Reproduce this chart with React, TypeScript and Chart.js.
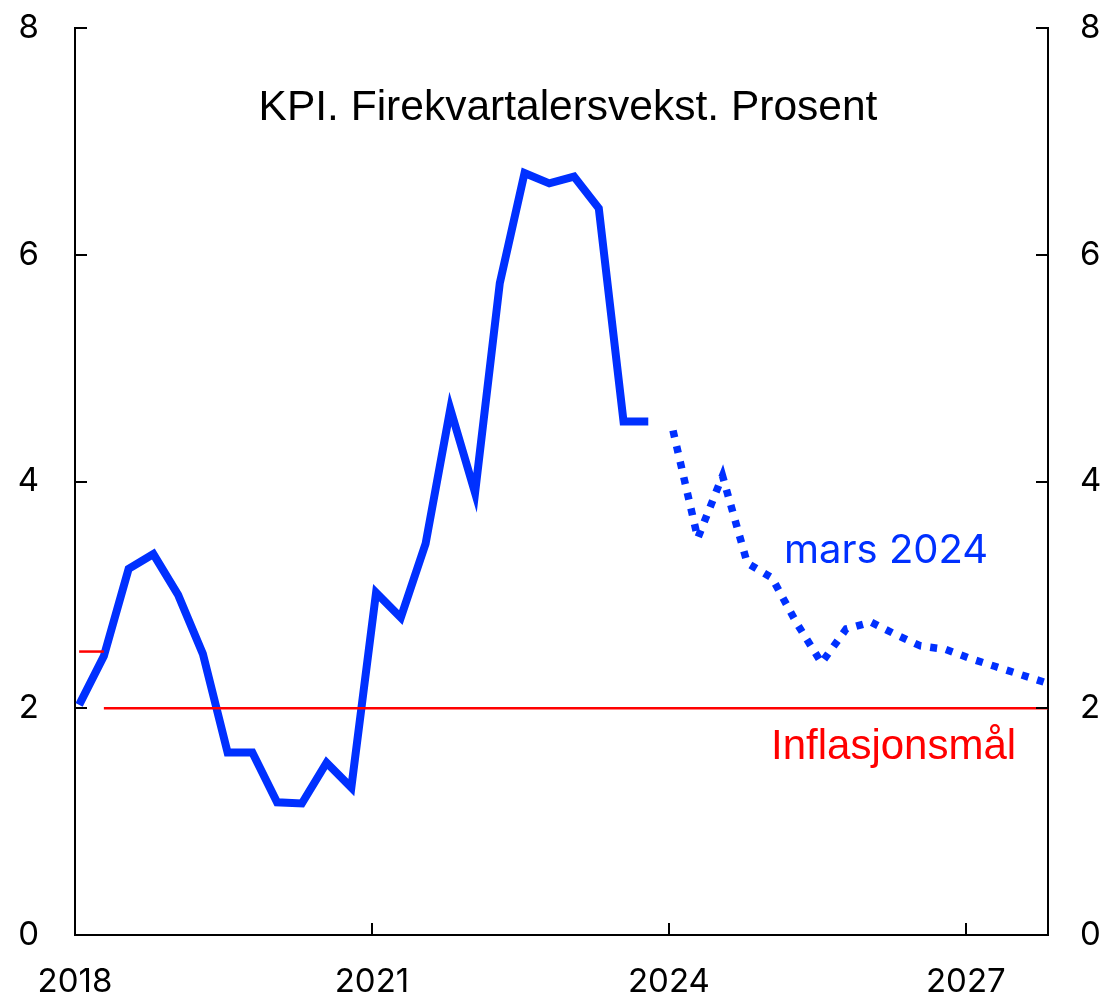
import React, { useEffect, useRef } from 'react';
import { Chart, registerables } from 'chart.js';

Chart.register(...registerables);

// ---- Data ----
const historyQuarters = [
  '2018Q1', '2018Q2', '2018Q3', '2018Q4',
  '2019Q1', '2019Q2', '2019Q3', '2019Q4',
  '2020Q1', '2020Q2', '2020Q3', '2020Q4',
  '2021Q1', '2021Q2', '2021Q3', '2021Q4',
  '2022Q1', '2022Q2', '2022Q3', '2022Q4',
  '2023Q1', '2023Q2', '2023Q3', '2023Q4',
];
const historyValues = [
  2.03, 2.46, 3.23, 3.36,
  3.0, 2.48, 1.61, 1.61,
  1.17, 1.16, 1.52, 1.3,
  3.02, 2.8, 3.45, 4.64,
  3.9, 5.75, 6.72, 6.63,
  6.69, 6.41, 4.53, 4.53,
];

const forecastQuarters = [
  '2024Q1', '2024Q2', '2024Q3', '2024Q4',
  '2025Q1', '2025Q2', '2025Q3', '2025Q4',
  '2026Q1', '2026Q2', '2026Q3', '2026Q4',
  '2027Q1', '2027Q2', '2027Q3', '2027Q4',
];
const forecastValues = [
  4.45, 3.5, 4.05, 3.28,
  3.15, 2.75, 2.4, 2.7,
  2.76, 2.65, 2.55, 2.52,
  2.44, 2.37, 2.3, 2.23,
];

const oldTargetQuarters = ['2018Q1', '2018Q2'];
const oldTargetValues = [2.5, 2.5];
const targetQuarters = ['2018Q2', '2028Q1'];
const targetValues = [2, 2];

const xTickYears = [2018, 2021, 2024, 2027];
const yTickValues = [0, 2, 4, 6, 8];

const titleText = 'KPI. Firekvartalersvekst. Prosent';
const forecastLabel = 'mars 2024';
const targetLabel = 'Inflasjonsmål';

// quarter -> position on a year axis (mid of first month of the quarter)
const quarterToX = (q: string): number => {
  const year = parseInt(q.slice(0, 4), 10);
  const n = parseInt(q.slice(5), 10);
  return year + (n - 1) / 4 + 1 / 24;
};
const toPoints = (qs: string[], vs: number[]) => qs.map((q, i) => ({ x: quarterToX(q), y: vs[i] }));

const BLUE = '#0030ff';
const RED = '#ff0000';
const TICK_FONT = { family: 'Inter', size: 33 };

const decorPlugin = {
  id: 'decor',
  afterDraw(chart: any) {
    const { ctx, chartArea, scales } = chart;
    const { left, right, bottom } = chartArea;
    ctx.save();
    ctx.strokeStyle = '#000';
    ctx.lineWidth = 2;
    // inward tick marks
    yTickValues.forEach((v) => {
      const py = Math.round(scales.y.getPixelForValue(v));
      ctx.beginPath();
      ctx.moveTo(left, py);
      ctx.lineTo(left + 12, py);
      ctx.moveTo(right, py);
      ctx.lineTo(right - 12, py);
      ctx.stroke();
    });
    xTickYears.forEach((v) => {
      const px = Math.round(scales.x.getPixelForValue(v));
      if (px - left < 4 || right - px < 4) return;
      ctx.beginPath();
      ctx.moveTo(px, bottom);
      ctx.lineTo(px, bottom - 12);
      ctx.stroke();
    });
    // texts
    ctx.textBaseline = 'alphabetic';
    ctx.fillStyle = '#000';
    ctx.font = '42.5px "Liberation Sans", Arial, sans-serif';
    ctx.textAlign = 'center';
    ctx.fillText(titleText, 568, 120);

    ctx.fillStyle = RED;
    ctx.font = '42px "Liberation Sans", Arial, sans-serif';
    ctx.textAlign = 'left';
    ctx.fillText(targetLabel, 771, 759);

    ctx.fillStyle = BLUE;
    ctx.font = '40px Inter, sans-serif';
    ctx.fillText(forecastLabel, 784, 563);
    ctx.restore();
  },
};

const zeroVerticalPadding = (scale: any, width: number) => {
  scale.width = width;
  scale.paddingTop = 0;
  scale.paddingBottom = 0;
};

export default function App() {
  const canvasRef = useRef<HTMLCanvasElement | null>(null);

  useEffect(() => {
    document.body.style.margin = '0';
    const canvas = canvasRef.current;
    if (!canvas) return;
    const chart = new Chart(canvas, {
      type: 'line',
      data: {
        datasets: [
          {
            data: toPoints(oldTargetQuarters, oldTargetValues),
            borderColor: RED,
            borderWidth: 2.5,
            pointRadius: 0,
          },
          {
            data: toPoints(targetQuarters, targetValues),
            borderColor: RED,
            borderWidth: 2.5,
            pointRadius: 0,
          },
          {
            data: toPoints(historyQuarters, historyValues),
            borderColor: BLUE,
            borderWidth: 8,
            pointRadius: 0,
            borderJoinStyle: 'miter',
            borderCapStyle: 'butt',
          },
          {
            data: toPoints(forecastQuarters, forecastValues),
            borderColor: BLUE,
            borderWidth: 7.5,
            borderDash: [7, 9],
            pointRadius: 0,
            borderCapStyle: 'butt',
          },
        ],
      },
      options: {
        animation: false,
        responsive: false,
        maintainAspectRatio: false,
        events: [],
        layout: { padding: { top: 28, left: 0, right: 0, bottom: 0 } },
        plugins: { legend: { display: false }, tooltip: { enabled: false }, title: { display: false } },
        scales: {
          x: {
            type: 'linear',
            min: 2018,
            max: 2027.83,
            grid: { display: false, drawTicks: false },
            border: { display: true, color: '#000', width: 2 },
            afterBuildTicks: (scale: any) => {
              scale.ticks = xTickYears.map((v) => ({ value: v }));
            },
            afterFit: (scale: any) => {
              scale.height = 68;
              scale.paddingLeft = 0;
              scale.paddingRight = 0;
            },
            ticks: {
              autoSkip: false,
              maxRotation: 0,
              padding: 27,
              color: '#000',
              font: TICK_FONT,
              callback: (v: any) => String(v),
            },
          },
          y: {
            position: 'left',
            min: 0,
            max: 8,
            grid: { display: false, drawTicks: false },
            border: { display: true, color: '#000', width: 2 },
            afterBuildTicks: (scale: any) => {
              scale.ticks = yTickValues.map((v) => ({ value: v }));
            },
            afterFit: (scale: any) => zeroVerticalPadding(scale, 75),
            ticks: { padding: 36, color: '#000', font: TICK_FONT },
          },
          y2: {
            position: 'right',
            min: 0,
            max: 8,
            grid: { display: false, drawTicks: false },
            border: { display: true, color: '#000', width: 2 },
            afterBuildTicks: (scale: any) => {
              scale.ticks = yTickValues.map((v) => ({ value: v }));
            },
            afterFit: (scale: any) => zeroVerticalPadding(scale, 56),
            ticks: { padding: 32, color: '#000', font: TICK_FONT },
          },
        },
      },
      plugins: [decorPlugin],
    } as any);
    return () => chart.destroy();
  }, []);

  return (
    <div style={{ width: 1104, height: 1003, background: '#fff' }}>
      <canvas ref={canvasRef} width={1104} height={1003} style={{ width: 1104, height: 1003, display: 'block' }} />
    </div>
  );
}
